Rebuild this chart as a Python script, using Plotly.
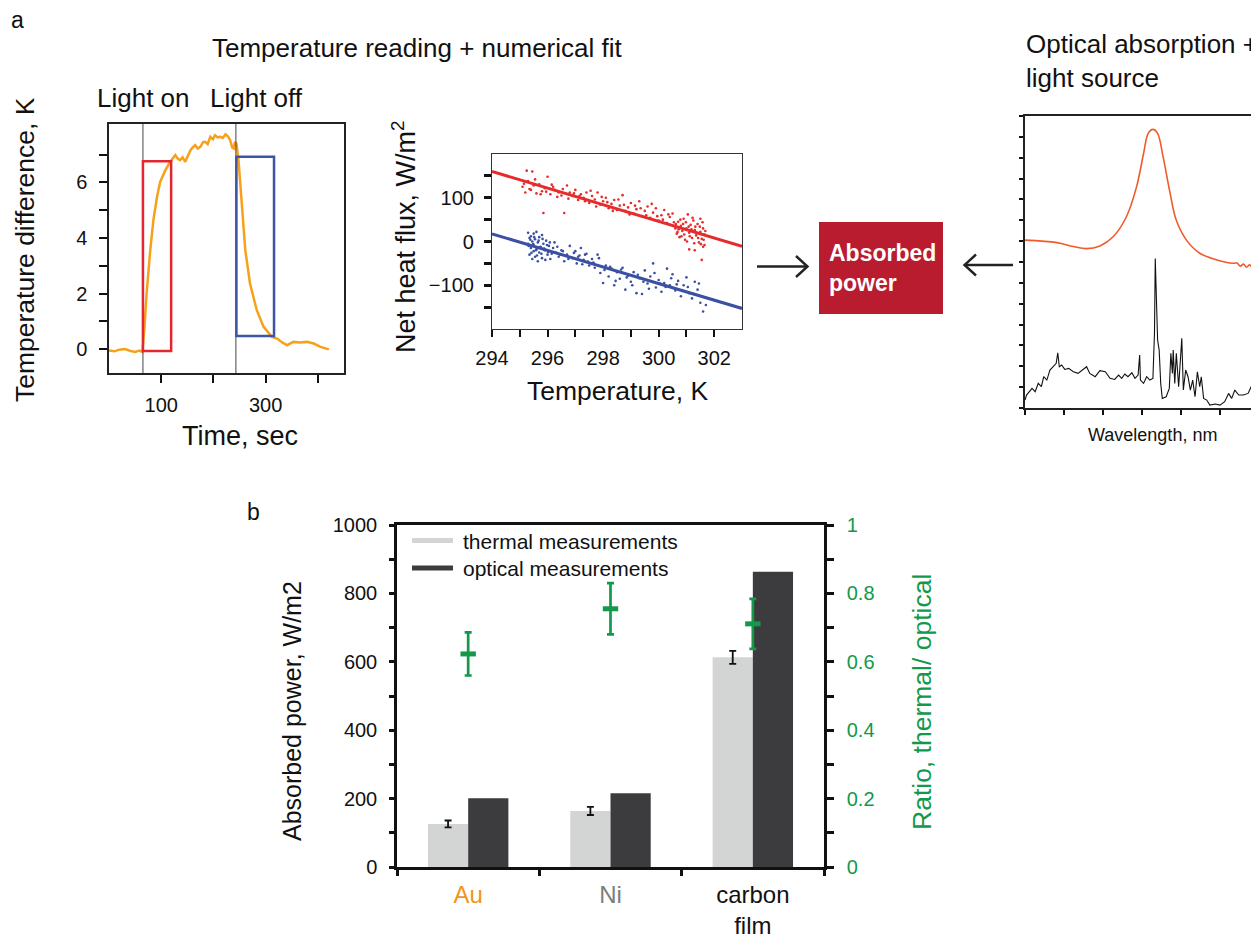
import plotly.graph_objects as go

# The page body adds an 8 px margin, so the figure is drawn 8 px smaller and
# every reference position is shifted by that offset.
OFF = 8
W, H = 1259 - OFF, 938 - OFF

# ---------------- DATA ----------------
# Panel a (left): temperature difference vs time
time_s = [0, 10, 20, 30, 40, 50, 58, 64, 68, 72, 79, 85, 92, 98, 108, 117, 127, 132, 136,
          141, 146, 151, 156, 160, 165, 170, 175, 180, 184, 189, 194, 199, 203, 208, 213,
          218, 223, 228, 232, 236, 239, 241, 244, 248, 255, 261, 270, 283, 296, 312, 322,
          331, 341, 353, 366, 379, 392, 405, 421]
temp_diff = [-0.05, -0.08, -0.02, 0.0, -0.06, -0.10, -0.05, -0.10, 0.8, 2.0, 3.56, 4.64, 5.48,
             6.02, 6.44, 6.74, 6.98, 6.85, 6.80, 6.90, 6.74, 6.95, 7.16, 7.25, 7.34, 7.22,
             7.28, 7.45, 7.46, 7.38, 7.64, 7.55, 7.70, 7.62, 7.64, 7.60, 7.73, 7.65, 7.52,
             7.25, 7.22, 7.45, 7.40, 6.80, 5.0, 3.56, 2.36, 1.40, 0.80, 0.44, 0.38, 0.25,
             0.14, 0.26, 0.24, 0.26, 0.20, 0.08, -0.01]
light_on_t = 65
light_off_t = 243
heat_box = dict(t0=65, t1=119, y0=-0.07, y1=6.76)
cool_box = dict(t0=244, t1=316, y0=0.47, y1=6.92)

# Panel a (middle): net heat flux vs temperature
heat_T = [295.1, 295.2, 295.25, 295.3, 295.4, 295.45, 295.5, 295.6, 295.7, 295.8, 295.85, 295.9,
          296.0, 296.1, 296.2, 296.25, 296.4, 296.5, 296.6, 296.7, 296.8, 296.9, 297.0, 297.1,
          297.2, 297.3, 297.4, 297.5, 297.6, 297.7, 297.8, 297.9, 298.0, 298.1, 298.2, 298.3,
          298.4, 298.5, 298.6, 298.7, 298.8, 298.9, 299.0, 299.1, 299.2, 299.3, 299.4, 299.5,
          299.6, 299.7, 299.8, 299.9, 300.0, 300.1, 300.2, 300.3, 300.4, 300.5, 300.6, 300.65,
          300.7, 300.75, 300.8, 300.85, 300.9, 300.95, 301.0, 301.05, 301.1, 301.1, 301.15,
          301.2, 301.25, 301.3, 301.3, 301.35, 301.4, 301.45, 301.5, 301.5, 301.55, 301.55,
          301.6, 301.6, 301.65, 301.65,
          295.15, 295.35, 295.55, 295.75, 295.95, 296.15, 296.35, 296.55, 296.75, 296.95,
          297.15, 297.35, 297.55, 297.75, 297.95, 298.15, 298.35, 298.55, 298.75, 298.95,
          299.15, 299.35, 299.55, 299.75, 299.95, 300.15, 300.35, 300.55, 300.62, 300.68,
          300.72, 300.78, 300.82, 300.88, 300.92, 300.98, 301.02, 301.08, 301.12, 301.18,
          301.22, 301.28, 301.32, 301.38, 301.42, 301.48, 301.52, 301.58, 301.62, 301.68]
heat_flux = [125, 112, 162, 138, 118, 160, 128, 110, 131, 115, 65, 122, 148, 108, 125, 118, 112,
             105, 65, 128, 112, 104, 118, 95, 108, 100, 112, 88, 104, 96, 112, 84, 92, 100, 76,
             86, 95, 72, 82, 106, 70, 78, 88, 64, 74, 92, 58, 70, 80, 54, 66, 76, 48, 60, 72,
             42, 56, 64, 30, 18, 45, 10, 36, 24, 52, 4, 30, 62, 20, -18, 38, 8, 48, 26, -20, 14,
             40, -2, 22, 52, -42, 6, -12, 30, 16, -8,
             132, 120, 142, 108, 114, 130, 102, 120, 98, 110, 104, 92, 116, 80, 102, 90, 70,
             96, 84, 62, 82, 76, 60, 86, 58, 50, 62, 44, 40, 22, 28, 50, 12, 40, 16, 44, 0, 34,
             12, 28, 54, -4, 34, 20, 8, 34, -6, 44, 4, 24]
cool_T = [295.3, 295.3, 295.35, 295.35, 295.4, 295.4, 295.45, 295.45, 295.5, 295.5, 295.5,
          295.55, 295.55, 295.6, 295.6, 295.65, 295.65, 295.7, 295.7, 295.75, 295.8, 295.8,
          295.85, 295.9, 295.95, 296.0, 296.05, 296.1, 296.2, 296.25, 296.3, 296.4, 296.5,
          296.6, 296.7, 296.8, 296.9, 297.0, 297.05, 297.1, 297.2, 297.3, 297.4, 297.5, 297.6,
          297.7, 297.8, 297.9, 298.0, 298.1, 298.2, 298.3, 298.4, 298.5, 298.6, 298.7, 298.8,
          298.9, 299.0, 299.1, 299.2, 299.3, 299.4, 299.5, 299.6, 299.7, 299.8, 299.9, 300.0,
          300.1, 300.2, 300.3, 300.4, 300.5, 300.6, 300.7, 300.8, 300.9, 301.0, 301.1, 301.2,
          301.3, 301.4, 301.5, 301.6, 301.7,
          295.32, 295.38, 295.42, 295.48, 295.52, 295.58, 295.62, 295.68, 295.72, 295.78,
          295.82, 295.88, 295.92, 295.98, 296.02, 296.08, 296.15, 296.35, 296.45, 296.55,
          296.75, 296.95, 297.15, 297.25, 297.35, 297.45, 297.65, 297.85, 298.05, 298.25,
          298.45, 298.65, 298.85, 299.05, 299.25, 299.45, 299.65, 299.85, 300.05, 300.25,
          300.45, 300.65, 300.85, 301.05, 301.25, 301.45]
cool_flux = [20, -5, -30, 8, -15, 12, -40, 0, -22, 18, -8, -35, 5, -18, 22, -2, -45, 10, -25,
             -12, 15, -38, -5, -20, 2, -30, -10, -40, -15, -2, -25, -35, -20, -45, -30, -10,
             -38, -22, -50, -35, -15, -42, -28, -55, -40, -60, -30, -72, -95, -55, -80, -62,
             -100, -70, -85, -60, -110, -78, -92, -70, -118, -84, -120, -66, -96, -80, -50,
             -105, -88, -115, -95, -62, -100, -75, -112, -90, -125, -100, -82, -118, -130, -92,
             -110, -140, -160, -145,
             -10, 4, -26, -6, 10, -20, -32, 2, -14, -28, 6, -16, -42, -8, -24, -2, -28, -12,
             -30, -22, -40, -26, -32, -52, -30, -46, -48, -38, -65, -58, -90, -64, -82, -100,
             -76, -92, -108, -72, -96, -104, -84, -98, -112, -104, -120, -96]
fit_T = [294, 303]
heat_fit = [160, -11]
cool_fit = [17.5, -153]

# Panel a (right): spectra (arbitrary units)
abs_wl = [400, 441, 462, 479, 496, 513, 530, 543, 552, 558, 564, 570, 577, 586, 594, 607, 624,
          646, 667, 672, 676, 680, 684, 688, 692, 696, 699]
abs_val = [8.05, 7.93, 7.74, 7.64, 7.77, 8.21, 9.17, 10.6, 12.2, 13.17, 13.36, 13.17, 12.05,
           10.3, 9.0, 8.05, 7.42, 7.10, 6.94, 6.95, 6.80, 6.90, 6.75, 6.86, 6.72, 6.80, 6.74]
src_wl = [400, 402, 409, 413, 417, 421, 424, 428, 432, 436, 440, 442, 444, 447, 451, 456, 462,
          468, 475, 479, 483, 490, 496, 503, 509, 515, 520, 524, 528, 532, 537, 541, 545, 547,
          548, 552, 556, 560, 564, 566, 567, 569, 570, 572, 574, 576, 581, 585, 587, 589, 590,
          592, 594, 597, 599, 601, 603, 606, 609, 612, 615, 618, 621, 624, 626, 629, 633, 637,
          644, 650, 656, 661, 665, 669, 674, 680, 686, 691, 695, 699]
src_val = [0.38, 0.62, 0.94, 0.78, 1.18, 1.02, 1.50, 1.34, 1.82, 1.98, 2.14, 2.65, 1.98, 2.06,
           1.85, 1.90, 1.74, 1.66, 1.85, 1.98, 1.66, 1.50, 1.79, 1.74, 1.42, 1.37, 1.58, 1.42,
           1.63, 1.50, 1.69, 1.42, 1.58, 2.54, 1.34, 1.18, 1.50, 1.34, 1.42, 3.58, 7.17, 5.18,
           3.26, 2.78, 1.18, 0.46, 0.54, 0.94, 2.62, 1.66, 2.78, 1.18, 2.62, 1.02, 2.30, 3.34,
           0.86, 1.82, 1.50, 0.86, 1.34, 0.54, 1.74, 1.02, 1.50, 0.46, 0.38, 0.14, 0.19, 0.14,
           0.30, 0.70, 0.46, 0.86, 0.62, 0.62, 0.70, 1.10, 0.78, 0.70]

# Panel b: absorbed power
materials = ["Au", "Ni", "carbon film"]
material_labels = ['<span style="color:#f39322">Au</span>',
                   '<span style="color:#7d7d7d">Ni</span>',
                   'carbon<br>film']
thermal = [126, 164, 613]
thermal_err = [10, 12, 19]
optical = [201, 216, 863]
ratio = [0.623, 0.755, 0.711]
ratio_err = [0.063, 0.075, 0.073]

# ---------------- FIGURE ----------------
def fx(p):
    return (p - OFF) / W

def fy(p):
    return 1 - (p - OFF) / H

HEL = "Liberation Sans, Arial, Helvetica, sans-serif"
ORANGE = "#f7a11a"
RED = "#e52b2b"
BLUE = "#3b50a3"
GREEN = "#12994a"

fig = go.Figure()

# a1
fig.add_trace(go.Scatter(x=time_s, y=temp_diff, mode="lines",
                         line=dict(color=ORANGE, width=2.5), xaxis="x", yaxis="y",
                         showlegend=False))
# a2
fig.add_trace(go.Scatter(x=heat_T, y=heat_flux, mode="markers",
                         marker=dict(color=RED, size=2.6), xaxis="x2", yaxis="y2",
                         showlegend=False))
fig.add_trace(go.Scatter(x=cool_T, y=cool_flux, mode="markers",
                         marker=dict(color=BLUE, size=2.6), xaxis="x2", yaxis="y2",
                         showlegend=False))
fig.add_trace(go.Scatter(x=fit_T, y=heat_fit, mode="lines",
                         line=dict(color=RED, width=3), xaxis="x2", yaxis="y2",
                         showlegend=False))
fig.add_trace(go.Scatter(x=fit_T, y=cool_fit, mode="lines",
                         line=dict(color=BLUE, width=3), xaxis="x2", yaxis="y2",
                         showlegend=False))
# a3
fig.add_trace(go.Scatter(x=abs_wl, y=abs_val, mode="lines", line_shape="spline",
                         line=dict(color="#f15a29", width=1.6), xaxis="x3", yaxis="y3",
                         showlegend=False))
fig.add_trace(go.Scatter(x=src_wl, y=src_val, mode="lines",
                         line=dict(color="#111111", width=1.1), xaxis="x3", yaxis="y3",
                         showlegend=False))
# b
fig.add_trace(go.Bar(x=materials, y=thermal, marker=dict(color="#d3d5d4", line_width=0),
                     error_y=dict(type="data", array=thermal_err, color="#111111",
                                  thickness=1.8, width=3.5),
                     xaxis="x4", yaxis="y4", showlegend=False, name="thermal measurements"))
fig.add_trace(go.Bar(x=materials, y=optical, marker=dict(color="#3c3c3e", line_width=0),
                     xaxis="x4", yaxis="y4", showlegend=False, name="optical measurements"))
fig.add_trace(go.Scatter(x=materials, y=ratio, mode="markers",
                         marker=dict(symbol="line-ew", size=11, color=GREEN,
                                     line=dict(color=GREEN, width=5)),
                         error_y=dict(type="data", array=ratio_err, color=GREEN,
                                      thickness=2.7, width=3.5),
                         xaxis="x4", yaxis="y5", showlegend=False))

axis_common = dict(showgrid=False, zeroline=False, showline=True, ticks="outside",
                   automargin=False)

fig.update_layout(
    width=W, height=H, margin=dict(l=0, r=0, t=0, b=0, autoexpand=False),
    paper_bgcolor="white", plot_bgcolor="white",
    barmode="group", bargap=0.435, bargroupgap=0,
    font=dict(family=HEL, color="#111111"),
    # a1
    xaxis=dict(domain=[fx(109), fx(344)], anchor="y", range=[0, 450],
               tickvals=[100, 200, 300, 400], ticktext=["100", "", "300", ""],
               linecolor="#222", linewidth=1.5, mirror=True, ticklen=8, tickwidth=2,
               tickcolor="#111", tickfont=dict(size=20, family=HEL),
               ticklabelstandoff=5, **axis_common),
    yaxis=dict(domain=[fy(373), fy(124)], anchor="x", range=[-0.86, 8.1],
               tickvals=[0, 1, 2, 3, 4, 5, 6, 7], ticktext=["0", "", "2", "", "4", "", "6", ""],
               linecolor="#222", linewidth=1.5, mirror=True, ticklen=8, tickwidth=2,
               tickcolor="#111", tickfont=dict(size=20, family=HEL),
               ticklabelstandoff=8, **axis_common),
    # a2
    xaxis2=dict(domain=[fx(492), fx(742)], anchor="y2", range=[294, 303],
                tickvals=[294, 295, 296, 297, 298, 299, 300, 301, 302],
                ticktext=["294", "", "296", "", "298", "", "300", "", "302"],
                linecolor="#333", linewidth=1.2, mirror=True, ticklen=7, tickwidth=2,
                tickcolor="#111", tickfont=dict(size=20, family=HEL),
                ticklabelstandoff=4, **axis_common),
    yaxis2=dict(domain=[fy(329), fy(154)], anchor="x2", range=[-200, 200],
                tickvals=[-150, -100, -50, 0, 50, 100, 150],
                ticktext=["", "\u2212100", "", "0", "", "100", ""],
                linecolor="#333", linewidth=1.2, mirror=True, ticklen=7, tickwidth=2.5,
                tickcolor="#111", tickfont=dict(size=20, family=HEL),
                ticklabelstandoff=6, **axis_common),
    # a3
    xaxis3=dict(domain=[fx(1025), 1.0], anchor="y3", range=[400, 700],
                tickvals=[400, 450, 500, 550, 600, 650, 700], showticklabels=False,
                linecolor="#222", linewidth=1.5, mirror=True, ticklen=5, tickwidth=2,
                tickcolor="#111", **axis_common),
    yaxis3=dict(domain=[fy(408), fy(116)], anchor="x3", range=[0, 14],
                tickvals=list(range(15)), showticklabels=False,
                linecolor="#222", linewidth=1.5, mirror=False, ticklen=4, tickwidth=2,
                tickcolor="#111", **axis_common),
    # b
    xaxis4=dict(domain=[fx(397), fx(824)], anchor="y4", type="category",
                categoryorder="array", categoryarray=materials,
                tickvals=materials, ticktext=material_labels, tickson="boundaries",
                linecolor="#111", linewidth=2.5, mirror=True, ticklen=6, tickwidth=2.5,
                tickcolor="#111", tickfont=dict(size=24, family=HEL, color="#111"),
                ticklabelstandoff=4, **axis_common),
    yaxis4=dict(domain=[fy(867), fy(525)], anchor="x4", range=[0, 1000],
                tickvals=[0, 100, 200, 300, 400, 500, 600, 700, 800, 900, 1000],
                ticktext=["0", "", "200", "", "400", "", "600", "", "800", "", "1000"],
                linecolor="#111", linewidth=2.5, mirror=False, ticklen=5, tickwidth=2.5,
                tickcolor="#111", tickfont=dict(size=20, family=HEL),
                ticklabelstandoff=8, **axis_common),
    yaxis5=dict(overlaying="y4", anchor="x4", side="right", range=[0, 1],
                tickvals=[0, 0.1, 0.2, 0.3, 0.4, 0.5, 0.6, 0.7, 0.8, 0.9, 1.0],
                ticktext=["0", "", "0.2", "", "0.4", "", "0.6", "", "0.8", "", "1"],
                linecolor="#111", linewidth=2.5, ticklen=7, tickwidth=2.5,
                tickcolor="#111", tickfont=dict(size=20, family=HEL, color=GREEN),
                ticklabelstandoff=9, **axis_common),
)

shapes = []
# light on/off vertical lines
for t in (light_on_t, light_off_t):
    shapes.append(dict(type="line", xref="x", yref="y domain", x0=t, x1=t, y0=0, y1=1,
                       line=dict(color="#444", width=1)))
shapes.append(dict(type="rect", xref="x", yref="y", x0=heat_box["t0"], x1=heat_box["t1"],
                   y0=heat_box["y0"], y1=heat_box["y1"], line=dict(color="#e3262f", width=2.5)))
shapes.append(dict(type="rect", xref="x", yref="y", x0=cool_box["t0"], x1=cool_box["t1"],
                   y0=cool_box["y0"], y1=cool_box["y1"], line=dict(color="#3c55a5", width=2.5)))


def pth(points):
    s = ""
    for i, (a, b) in enumerate(points):
        s += ("M" if i == 0 else "L") + f" {fx(a):.5f},{fy(b):.5f} "
    return s


# arrows
shapes.append(dict(type="path", xref="paper", yref="paper",
                   path=pth([(757, 266.5), (807, 266.5)]), line=dict(color="#222", width=2.4)))
shapes.append(dict(type="path", xref="paper", yref="paper",
                   path=pth([(796, 256), (807.5, 266.5), (796, 277)]),
                   line=dict(color="#222", width=2.4)))
shapes.append(dict(type="path", xref="paper", yref="paper",
                   path=pth([(1013, 265), (965, 265)]), line=dict(color="#222", width=2.4)))
shapes.append(dict(type="path", xref="paper", yref="paper",
                   path=pth([(976, 254.5), (964.5, 265), (976, 275.5)]),
                   line=dict(color="#222", width=2.4)))
# red box
shapes.append(dict(type="rect", xref="paper", yref="paper", x0=fx(819), x1=fx(943),
                   y0=fy(314), y1=fy(222), fillcolor="#b91c2e", line=dict(width=0)))
# legend swatches (panel b)
shapes.append(dict(type="line", xref="paper", yref="paper", x0=fx(412), x1=fx(453),
                   y0=fy(540.5), y1=fy(540.5), line=dict(color="#d3d5d4", width=5)))
shapes.append(dict(type="line", xref="paper", yref="paper", x0=fx(412), x1=fx(453),
                   y0=fy(568), y1=fy(568), line=dict(color="#3c3c3e", width=5)))

ann = []


def add_text(text, x, y, size, xanchor="center", yanchor="middle", angle=0, color="#111",
             family=HEL, align="center"):
    ann.append(dict(text=text, x=fx(x), y=fy(y), xref="paper", yref="paper",
                    showarrow=False, xanchor=xanchor, yanchor=yanchor, textangle=angle,
                    font=dict(size=size, color=color, family=family), align=align))


add_text("a", 9, 20, 23, xanchor="left")
add_text("Temperature reading + numerical fit", 417, 48, 26)
add_text("Light on", 143.5, 98, 26)
add_text("Light off", 256, 98, 26)
add_text("Temperature difference, K", 25, 250, 26.5, angle=-90)
add_text("Time, sec", 240, 436, 27)
add_text("Net heat flux, W/m<sup>2</sup>", 404, 236, 27, angle=-90)
add_text("Temperature, K", 617, 391, 26.5)
add_text("<b>Absorbed<br>power</b>", 827, 268, 23, xanchor="left", color="white", align="left")
add_text("Optical absorption +<br>light source", 1024, 61, 26, xanchor="left", align="left")
add_text("Wavelength, nm", 1152, 435, 18)
add_text("b", 245, 512, 23, xanchor="left")
add_text("Absorbed power, W/m2", 292, 711, 25, angle=-90)
add_text("Ratio, thermal/ optical", 922, 702, 26.5, angle=-90, color=GREEN)
add_text("thermal measurements", 461, 541, 21, xanchor="left")
add_text("optical measurements", 461, 568, 21, xanchor="left")

fig.update_layout(shapes=shapes, annotations=ann)

fig.write_html("out.html")
